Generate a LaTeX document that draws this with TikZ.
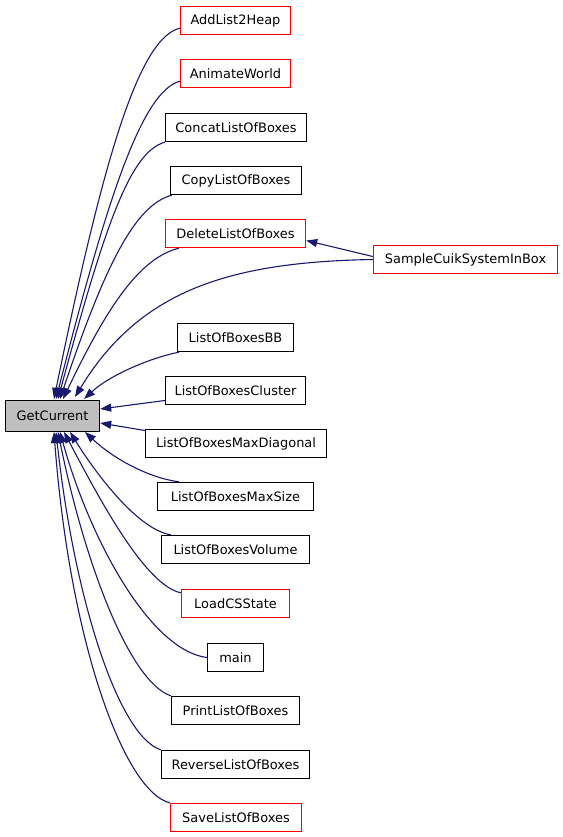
\documentclass[tikz,border=0pt]{standalone}
\usepackage{fontspec}
\setmainfont{DejaVu Sans}
\usetikzlibrary{arrows.meta}
\definecolor{edgecol}{HTML}{191970}
\definecolor{grayfill}{HTML}{BFBFBF}
\tikzset{
  fn/.style={draw=black, line width=1.4bp, fill=white, minimum height=28bp, inner xsep=4bp, inner ysep=0bp, font=\fontsize{13}{15}\selectfont, anchor=center},
  fnred/.style={fn, draw=red},
  cur/.style={fn, fill=grayfill, minimum height=31bp, minimum width=94bp},
  edge/.style={draw=edgecol, line width=1.1bp, -{Triangle[length=11bp,width=8bp]}}
}
\begin{document}
\begin{tikzpicture}[x=1bp,y=-1bp]
\useasboundingbox (0,0) rectangle (563,837);
\node[cur] (gc) at (52.5,416) {GetCurrent};
\node[fnred, minimum width=110bp] (a1) at (235.5,20.5) {AddList2Heap};
\node[fnred, minimum width=110bp] (a2) at (235.5,73.5) {AnimateWorld};
\node[fn, minimum width=141bp] (a3) at (236,127.5) {ConcatListOfBoxes};
\node[fn, minimum width=131bp] (a4) at (236,180.5) {CopyListOfBoxes};
\node[fnred, minimum width=140bp] (a5) at (235.5,233.5) {DeleteListOfBoxes};
\node[fnred, minimum width=184bp] (s) at (465.5,259.5) {SampleCuikSystemInBox};
\node[fn, minimum width=116bp] (a6) at (235.5,337.5) {ListOfBoxesBB};
\node[fn, minimum width=140bp] (a7) at (235.5,390.5) {ListOfBoxesCluster};
\node[fn, minimum width=181bp] (a8) at (236,443.5) {ListOfBoxesMaxDiagonal};
\node[fn, minimum width=156bp] (a9) at (235.5,496.5) {ListOfBoxesMaxSize};
\node[fn, minimum width=148bp] (a10) at (235.5,549.5) {ListOfBoxesVolume};
\node[fnred, minimum width=108bp] (a11) at (235.5,603.5) {LoadCSState};
\node[fn, minimum width=56bp] (a12) at (235.5,657.5) {main};
\node[fn, minimum width=128bp] (a13) at (235.5,710.5) {PrintListOfBoxes};
\node[fn, minimum width=148bp] (a14) at (235.5,764.5) {ReverseListOfBoxes};
\node[fnred, minimum width=131bp] (a15) at (236,817.5) {SaveListOfBoxes};

\coordinate (e1) at (54,399);
\coordinate (e2) at (56,399);
\coordinate (e3) at (58,399);
\coordinate (e4) at (60,399);
\coordinate (e5) at (63,399);
\coordinate (e6) at (75,397);
\coordinate (e7) at (84,399);
\coordinate (e15) at (54,432);
\coordinate (e14) at (56,432);
\coordinate (e13) at (58,432);
\coordinate (e12) at (60,432);
\coordinate (e11) at (64,432);
\coordinate (e10) at (70,432);
\coordinate (e9) at (85,432);

\draw[edge] ([yshift=7bp]a1.south west) .. controls (140,38) and (105,150) .. (e1);
\draw[edge] ([yshift=7bp]a2.south west) .. controls (142,92) and (108,195) .. (e2);
\draw[edge] (a3.south west) .. controls (130,152) and (105,225) .. (e3);
\draw[edge] ([xshift=2bp]a4.south west) .. controls (135,205) and (105,265) .. (e4);
\draw[edge] ([xshift=14bp]a5.south west) .. controls (140,258) and (108,305) .. (e5);
\draw[edge] (s.west) .. controls (230,262) and (140,290) .. (e6);
\draw[edge] ([yshift=3bp]s.west) -- ([yshift=-7bp]a5.east);
\draw[edge] ([xshift=2bp]a6.south west) .. controls (150,358) and (110,375) .. (e7);
\draw[edge] ([yshift=-10bp]a7.west) -- ([yshift=7bp]gc.east);
\draw[edge] ([yshift=13bp]a8.west) -- ([yshift=-7bp]gc.east);
\draw[edge] ([xshift=22bp]a9.north west) .. controls (150,478) and (115,460) .. (e9);
\draw[edge] ([xshift=10bp]a10.north west) .. controls (140,530) and (100,480) .. (e10);
\draw[edge] ([yshift=-4bp]a11.north west) .. controls (145,585) and (100,500) .. (e11);
\draw[edge] (a12.west) .. controls (150,650) and (90,540) .. (e12);
\draw[edge] (a13.north west) .. controls (130,682) and (85,565) .. (e13);
\draw[edge] (a14.north west) .. controls (120,737) and (75,605) .. (e14);
\draw[edge] (a15.north west) .. controls (125,792) and (70,645) .. (e15);
\end{tikzpicture}
\end{document}
